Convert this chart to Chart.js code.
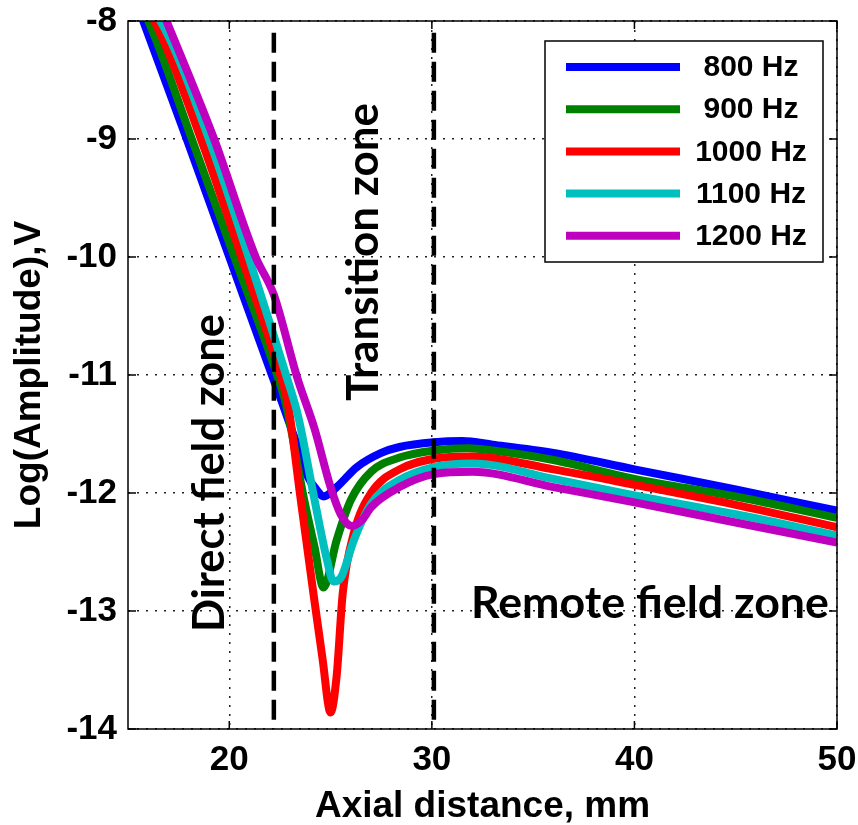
<!DOCTYPE html>
<html>
<head>
<meta charset="utf-8">
<script src="https://cdn.jsdelivr.net/npm/chart.js@4.4.1/dist/chart.umd.min.js"></script>
<style>
html,body{margin:0;padding:0;background:#fff}
#wrap{width:858px;height:825px}
</style>
</head>
<body>
<div id="wrap"><canvas id="chart" width="858" height="825"></canvas></div>
<script>
// values (axial distance in mm, log amplitude)
const xTicks = [20, 30, 40, 50];
const yTicks = [-8, -9, -10, -11, -12, -13, -14];

const x800 = [15, 15.75, 17.9, 20.0, 22.1, 22.6, 23.3, 23.9, 24.3, 24.65, 25.3, 26.3, 27.5, 28.4, 30.1, 31.5, 33, 36, 40, 45, 50];
const y800 = [-7.64, -8, -9, -10, -11, -11.23, -11.57, -11.87, -11.97, -12.03, -11.95, -11.78, -11.66, -11.61, -11.57, -11.56, -11.59, -11.66, -11.8, -11.97, -12.15];

const x900 = [15, 16.0, 18.15, 20.25, 22.36, 22.8, 23.7, 24.2, 24.65, 25.3, 26.0, 27.0, 28.4, 30.1, 31.8, 33, 36, 40, 45, 50];
const y900 = [-7.68, -8, -9, -10, -11, -11.25, -12.06, -12.45, -12.8, -12.4, -12.06, -11.82, -11.7, -11.64, -11.62, -11.64, -11.72, -11.88, -12.03, -12.21];

const x1000 = [15, 16.3, 18.6, 20.6, 22.52, 22.9, 23.5, 24.2, 24.6, 25.0, 25.3, 25.6, 26.15, 27.0, 28.4, 30.1, 32, 36, 40, 45, 50];
const y1000 = [-7.73, -8, -9, -10, -11, -11.25, -12.02, -12.91, -13.4, -13.86, -13.55, -12.85, -12.34, -12.0, -11.8, -11.71, -11.69, -11.8, -11.93, -12.1, -12.29];

const x1100 = [15, 16.6, 19.0, 20.95, 22.8, 23.4, 24.2, 24.8, 25.15, 25.5, 26.15, 27.0, 28.4, 30.1, 32, 36, 40, 45, 50];
const y1100 = [-7.73, -8, -9, -10, -11, -11.35, -12.05, -12.55, -12.75, -12.72, -12.4, -12.09, -11.89, -11.78, -11.75, -11.88, -12.02, -12.18, -12.36];

const x1200 = [15, 16.9, 19.25, 21.3, 22.2, 23.35, 24.2, 25.0, 25.5, 26.05, 26.6, 27.0, 28.4, 30.1, 32, 36, 40, 45, 50];
const y1200 = [-7.22, -8, -9, -10, -10.32, -11.02, -11.45, -11.95, -12.18, -12.28, -12.22, -12.12, -11.95, -11.84, -11.82, -11.95, -12.08, -12.25, -12.42];

const labels = ['800 Hz', '900 Hz', '1000 Hz', '1100 Hz', '1200 Hz'];
const colors = ['#0000ff', '#008000', '#ff0000', '#00bfbf', '#bf00bf'];

// zone boundaries (dashed verticals)
const zoneX = [22.2, 30.1];
const zoneY = [-8.1, -14];

const toPts = (xs, ys) => xs.map((x, i) => ({x, y: ys[i]}));
const series = [[x800, y800], [x900, y900], [x1000, y1000], [x1100, y1100], [x1200, y1200]];

const datasets = series.map((s, i) => ({
  label: labels[i], data: toPts(s[0], s[1]),
  borderColor: colors[i], borderWidth: 8, pointRadius: 0,
  cubicInterpolationMode: 'monotone', fill: false, clip: 0,
  order: 5 - i, isSeries: true
}));
zoneX.forEach(zx => datasets.push({
  label: '', data: [{x: zx, y: zoneY[0]}, {x: zx, y: zoneY[1]}],
  borderColor: '#000', borderWidth: 4.5, borderDash: [20, 9], pointRadius: 0,
  fill: false, clip: 0, order: 0
}));

const AX = '"Liberation Sans", Arial, sans-serif';

const framePlugin = {
  id: 'frame',
  afterDatasetsDraw(chart) {
    const {ctx, chartArea: a, scales} = chart;
    ctx.save();
    ctx.strokeStyle = '#000'; ctx.lineWidth = 1.5; ctx.setLineDash([]);
    ctx.strokeRect(a.left, a.top, a.right - a.left, a.bottom - a.top);
    // inward ticks, all four sides
    const tl = 8;
    ctx.beginPath();
    xTicks.forEach(v => { const px = scales.x.getPixelForValue(v);
      ctx.moveTo(px, a.bottom); ctx.lineTo(px, a.bottom - tl);
      ctx.moveTo(px, a.top); ctx.lineTo(px, a.top + tl); });
    yTicks.forEach(v => { const py = scales.y.getPixelForValue(v);
      ctx.moveTo(a.left, py); ctx.lineTo(a.left + tl, py);
      ctx.moveTo(a.right, py); ctx.lineTo(a.right - tl, py); });
    ctx.stroke();
    ctx.restore();
  },
  afterDraw(chart) {
    const {ctx} = chart;
    ctx.save();
    // legend box
    const bx = 545, by = 41, bw = 278, bh = 221;
    ctx.fillStyle = '#fff'; ctx.fillRect(bx, by, bw, bh);
    ctx.strokeStyle = '#000'; ctx.lineWidth = 1.5; ctx.strokeRect(bx, by, bw, bh);
    const rows = chart.data.datasets.filter(d => d.isSeries);
    ctx.font = 'bold 30px ' + AX; ctx.textAlign = 'center'; ctx.textBaseline = 'middle';
    rows.forEach((d, i) => {
      const y = 67 + i * 42.2;
      ctx.strokeStyle = d.borderColor; ctx.lineWidth = 8;
      ctx.beginPath(); ctx.moveTo(566, y); ctx.lineTo(680, y); ctx.stroke();
      ctx.fillStyle = '#000'; ctx.fillText(d.label, 751, y + 1);
    });
    // zone captions
    const fam = 'Lato, "Open Sans", sans-serif';
    const fit = (txt, len) => { ctx.font = 'bold 40px ' + fam; return 40 * len / ctx.measureText(txt).width; };
    ctx.fillStyle = '#000';
    const vert = (txt, cx, cy, len) => {
      const fs = fit(txt, len);
      ctx.save(); ctx.translate(cx, cy); ctx.rotate(-Math.PI / 2);
      ctx.font = 'bold ' + fs + 'px ' + fam; ctx.textAlign = 'center'; ctx.textBaseline = 'middle';
      ctx.fillText(txt, 0, 0); ctx.restore();
    };
    vert('Direct field zone', 210, 473, 318);
    vert('Transition zone', 364, 252, 298);
    const fs = fit('Remote field zone', 358);
    ctx.font = 'bold ' + fs + 'px ' + fam; ctx.textAlign = 'left'; ctx.textBaseline = 'alphabetic';
    ctx.fillText('Remote field zone', 471, 618);
    ctx.restore();
  }
};

const gridOpts = {color: '#222', lineWidth: 1.5, drawTicks: false};
const noPad = s => { s.paddingLeft = 0; s.paddingRight = 0; s.paddingTop = 0; s.paddingBottom = 0; };

new Chart(document.getElementById('chart'), {
  type: 'line',
  data: {datasets},
  options: {
    responsive: false, animation: false, devicePixelRatio: 1,
    layout: {padding: {top: 21, right: 21, left: 0, bottom: 0}},
    plugins: {legend: {display: false}, tooltip: {enabled: false}},
    scales: {
      x: {
        type: 'linear', min: 15, max: 50,
        afterBuildTicks: s => { s.ticks = xTicks.map(v => ({value: v})); },
        afterFit: s => { s.height = 96; noPad(s); },
        grid: gridOpts, border: {display: false, dash: [2, 7]},
        ticks: {color: '#000', padding: 10, font: {family: AX, size: 35, weight: 'bold'}},
        title: {display: true, text: 'Axial distance, mm', color: '#000', padding: {top: 0, bottom: -4},
          font: {family: AX, size: 37, weight: 'bold'}}
      },
      y: {
        type: 'linear', min: -14, max: -8,
        afterBuildTicks: s => { s.ticks = yTicks.map(v => ({value: v})); },
        afterFit: s => { s.width = 128; noPad(s); },
        grid: gridOpts, border: {display: false, dash: [2, 7]},
        ticks: {color: '#000', padding: 11, font: {family: AX, size: 35, weight: 'bold'}},
        title: {display: true, text: 'Log(Amplitude),V', color: '#000', padding: {top: 8, bottom: 8},
          font: {family: AX, size: 37, weight: 'bold'}}
      }
    }
  },
  plugins: [framePlugin]
});
</script>
</body>
</html>
